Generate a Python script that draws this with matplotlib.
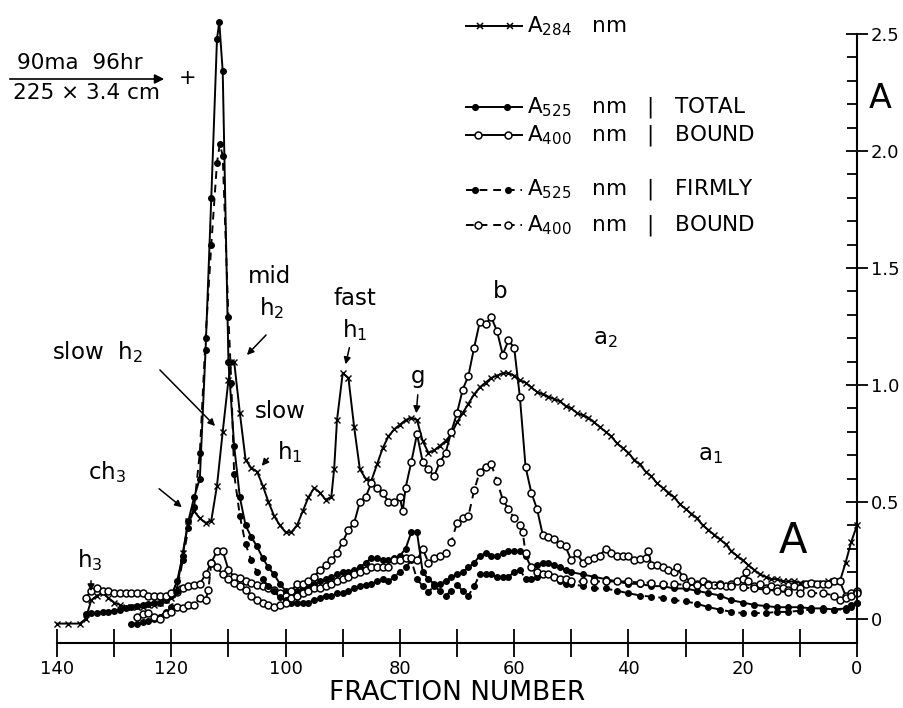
import matplotlib
matplotlib.use("Agg")
import matplotlib.pyplot as plt
from matplotlib.lines import Line2D
import numpy as np

plt.rcParams['font.family'] = ['DejaVu Sans']
plt.rcParams['mathtext.default'] = 'regular'

# --- data (fraction number, absorbance) ---
a284_frac = [140, 138, 136, 135, 134, 133, 132, 131, 130, 129, 128, 127, 126, 125, 124, 123, 122, 121,
             120, 119, 118, 117, 116, 115, 114, 113, 112, 111, 110, 109.5, 109, 108, 107, 106, 105, 104,
             103, 102, 101, 100, 99, 98, 97, 96, 95, 94, 93, 92, 91.5, 91, 90, 89, 88, 87, 86, 85, 84,
             83, 82, 81, 80, 79, 78, 77, 76, 75, 74, 73, 72, 71, 70, 69, 68, 67, 66, 65, 64, 63, 62, 61,
             60, 59, 58, 57, 56, 55, 54, 53, 52, 51, 50, 49, 48, 47, 46, 45, 44, 43, 42, 41, 40, 39, 38,
             37, 36, 35, 34, 33, 32, 31, 30, 29, 28, 27, 26, 25, 24, 23, 22, 21, 20, 19, 18, 17, 16, 15,
             14, 13, 12, 11, 10, 9, 8, 7, 6, 5, 4, 3, 2, 1, 0]
a284_val = [-0.02, -0.02, -0.02, 0.0, 0.08, 0.10, 0.11, 0.09, 0.07, 0.06, 0.05, 0.05, 0.05, 0.05, 0.06, 0.06,
            0.07, 0.08, 0.09, 0.13, 0.28, 0.42, 0.46, 0.43, 0.41, 0.42, 0.57, 0.80, 1.02, 1.10, 1.10, 0.88,
            0.68, 0.645, 0.63, 0.57, 0.50, 0.44, 0.40, 0.37, 0.37, 0.40, 0.46, 0.52, 0.56, 0.54, 0.51, 0.52,
            0.64, 0.85, 1.05, 1.03, 0.82, 0.64, 0.60, 0.59, 0.66, 0.73, 0.78, 0.81, 0.83, 0.85, 0.86, 0.85,
            0.76, 0.71, 0.72, 0.74, 0.76, 0.79, 0.84, 0.88, 0.92, 0.96, 0.99, 1.01, 1.03, 1.04, 1.05, 1.05,
            1.04, 1.02, 1.01, 0.99, 0.97, 0.96, 0.95, 0.94, 0.93, 0.91, 0.90, 0.88, 0.87, 0.86, 0.84, 0.82,
            0.80, 0.78, 0.75, 0.73, 0.71, 0.68, 0.66, 0.63, 0.61, 0.58, 0.56, 0.54, 0.52, 0.49, 0.47, 0.45,
            0.43, 0.40, 0.38, 0.36, 0.34, 0.32, 0.29, 0.27, 0.25, 0.23, 0.21, 0.19, 0.18, 0.17, 0.17, 0.16,
            0.16, 0.16, 0.155, 0.155, 0.15, 0.155, 0.155, 0.16, 0.16, 0.16, 0.24, 0.33, 0.40]

tot525_frac = [135, 134, 133, 132, 131, 130, 129, 128, 127, 126, 125, 124, 123, 122, 121, 120, 119, 118,
               117, 116, 115, 114, 113, 112, 111.6, 111, 110, 109, 108, 107, 106, 105, 104, 103, 102, 101, 100,
               99, 98, 97, 96, 95, 94, 93, 92, 91, 90, 89, 88, 87, 86, 85, 84, 83, 82, 81, 80, 79, 78, 77,
               76, 75, 74, 73, 72, 71, 70, 69, 68, 67, 66, 65, 64, 63, 62, 61, 60, 59, 58, 57, 56, 55, 54,
               53, 52, 51, 50, 48, 46, 44, 42, 40, 38, 36, 34, 32, 30, 28, 26, 24, 22, 20, 18, 16, 14, 12,
               10, 8, 6, 4, 2, 1, 0]
tot525_val = [0.02, 0.025, 0.025, 0.03, 0.03, 0.035, 0.04, 0.045, 0.05, 0.055, 0.06, 0.065, 0.07, 0.07,
              0.08, 0.10, 0.16, 0.27, 0.42, 0.52, 0.60, 1.15, 1.80, 2.48, 2.55, 2.34, 1.10, 0.74, 0.52, 0.40,
              0.35, 0.31, 0.26, 0.22, 0.19, 0.15, 0.12, 0.11, 0.12, 0.13, 0.14, 0.15, 0.16, 0.17, 0.18,
              0.19, 0.20, 0.20, 0.21, 0.22, 0.24, 0.26, 0.26, 0.25, 0.25, 0.26, 0.27, 0.30, 0.37, 0.37,
              0.20, 0.17, 0.15, 0.15, 0.16, 0.18, 0.19, 0.20, 0.22, 0.24, 0.27, 0.28, 0.27, 0.27, 0.28,
              0.29, 0.29, 0.29, 0.27, 0.22, 0.23, 0.24, 0.24, 0.23, 0.22, 0.21, 0.20, 0.19, 0.18, 0.17,
              0.16, 0.15, 0.15, 0.14, 0.14, 0.13, 0.13, 0.12, 0.11, 0.10, 0.08, 0.07, 0.06, 0.055, 0.05,
              0.05, 0.05, 0.045, 0.045, 0.04, 0.045, 0.06, 0.07]

tot400_frac = [135, 134, 133, 132, 131, 130, 129, 128, 127, 126, 125, 124, 123, 122, 121, 120, 119, 118,
               117, 116, 115, 114, 113, 112, 111, 110, 109, 108, 107, 106, 105, 104, 103, 102, 101, 100,
               99, 98, 97, 96, 95, 94, 93, 92, 91, 90, 89, 88, 87, 86, 85, 84, 83, 82, 81, 80, 79.5, 79,
               78, 77, 76, 75, 74, 73, 72, 71, 70, 69, 68, 67, 66, 65, 64, 63, 62, 61, 60, 59, 58, 57, 56,
               55, 54, 53, 52, 51, 50, 49, 48, 47, 46, 45, 44, 43, 42, 41, 40, 39, 38, 37, 36.5, 36, 35,
               34, 33, 32, 31.5, 30.5, 29, 28, 27, 26, 25, 24, 23, 22, 21, 20, 19.5, 19, 18, 17, 16, 15,
               14, 13, 12, 11, 10, 9, 8, 7, 6, 5, 4, 3, 2, 1, 0]
tot400_val = [0.09, 0.12, 0.13, 0.12, 0.12, 0.11, 0.11, 0.11, 0.11, 0.11, 0.11, 0.10, 0.10, 0.10, 0.10,
              0.11, 0.115, 0.13, 0.14, 0.145, 0.15, 0.19, 0.24, 0.29, 0.29, 0.21, 0.18, 0.175, 0.16,
              0.155, 0.145, 0.14, 0.13, 0.125, 0.11, 0.10, 0.12, 0.15, 0.15, 0.16, 0.18, 0.21, 0.23, 0.25,
              0.28, 0.33, 0.38, 0.41, 0.50, 0.52, 0.58, 0.56, 0.54, 0.50, 0.50, 0.52, 0.46, 0.56, 0.67,
              0.79, 0.67, 0.64, 0.61, 0.67, 0.71, 0.80, 0.88, 0.98, 1.04, 1.16, 1.27, 1.26, 1.29, 1.23,
              1.13, 1.19, 1.16, 0.95, 0.65, 0.54, 0.47, 0.36, 0.35, 0.34, 0.32, 0.31, 0.25, 0.28, 0.24,
              0.25, 0.26, 0.27, 0.30, 0.28, 0.27, 0.27, 0.27, 0.25, 0.255, 0.26, 0.29, 0.23, 0.23, 0.22,
              0.21, 0.20, 0.22, 0.18, 0.16, 0.15, 0.16, 0.15, 0.145, 0.15, 0.14, 0.15, 0.16, 0.17, 0.20,
              0.16, 0.14, 0.15, 0.13, 0.14, 0.13, 0.13, 0.125, 0.14, 0.13, 0.15, 0.155, 0.15, 0.15, 0.15,
              0.16, 0.16, 0.10, 0.11, 0.12]

firm525_frac = [127, 126, 125, 124, 123, 122, 121, 120, 119, 118, 117, 116, 115, 114, 113, 112, 111.5,
                111, 110, 109.5, 109, 108, 107, 106, 105, 104, 103, 102, 101, 100, 99, 98, 97, 96, 95, 94,
                93, 92, 91, 90, 89, 88, 87, 86, 85, 84, 83, 82, 81, 80, 79, 78, 77, 76, 75, 74, 73, 72, 71,
                70, 69, 68, 67, 66, 65, 64, 63, 62, 61, 60, 59, 58, 57, 56, 55, 54, 53, 52, 51, 50, 48, 46,
                44, 42, 40, 38, 36, 34, 32, 30, 28, 26, 24, 22, 20, 18, 16, 14, 12, 10, 8, 6, 4, 2, 1, 0]
firm525_val = [-0.02, -0.02, -0.015, -0.01, 0.0, 0.01, 0.03, 0.05, 0.12, 0.25, 0.39, 0.48, 0.71, 1.20,
               1.60, 1.95, 2.03, 1.98, 1.29, 1.01, 0.62, 0.44, 0.32, 0.25, 0.20, 0.17, 0.14, 0.12, 0.095,
               0.08, 0.07, 0.07, 0.07, 0.07, 0.08, 0.09, 0.10, 0.10, 0.11, 0.11, 0.12, 0.13, 0.14, 0.145,
               0.15, 0.16, 0.17, 0.16, 0.18, 0.20, 0.22, 0.25, 0.17, 0.14, 0.115, 0.14, 0.12, 0.10, 0.12,
               0.145, 0.12, 0.10, 0.14, 0.19, 0.19, 0.19, 0.18, 0.18, 0.18, 0.20, 0.21, 0.17, 0.17, 0.18,
               0.19, 0.19, 0.18, 0.16, 0.15, 0.15, 0.14, 0.13, 0.13, 0.12, 0.11, 0.10, 0.095, 0.09, 0.08,
               0.075, 0.065, 0.05, 0.04, 0.03, 0.025, 0.025, 0.025, 0.03, 0.03, 0.035, 0.04, 0.04, 0.04,
               0.04, 0.05, 0.07]

firm400_frac = [126, 125, 124, 123, 122, 121, 120, 119, 118, 117, 116, 115, 114, 113.5, 113, 112, 111,
                110, 109, 108, 107, 106, 105, 104, 103, 102, 101, 100, 99, 98, 97, 96, 95, 94, 93, 92, 91,
                90, 89, 88, 87, 86, 85, 84, 83, 82, 81, 80, 79, 78, 77, 76, 75, 74, 73, 72, 71, 70, 69, 68,
                67, 66, 65, 64, 63, 62, 61, 60, 59, 58.5, 58, 57, 56, 55, 54, 53, 52, 51, 50, 48, 46, 44,
                42, 40, 38, 36, 34, 32, 30, 28, 26, 24, 22, 20, 18, 16, 14, 12, 10, 8, 6, 4, 3, 2, 1, 0]
firm400_val = [0.01, 0.02, 0.025, 0.01, 0.0, 0.02, 0.03, 0.05, 0.047, 0.06, 0.06, 0.09, 0.08, 0.125, 0.24,
               0.22, 0.19, 0.17, 0.155, 0.14, 0.125, 0.10, 0.08, 0.07, 0.06, 0.05, 0.06, 0.07, 0.09, 0.10,
               0.11, 0.12, 0.13, 0.13, 0.14, 0.15, 0.16, 0.17, 0.18, 0.19, 0.20, 0.21, 0.22, 0.22, 0.22,
               0.22, 0.25, 0.25, 0.26, 0.26, 0.25, 0.30, 0.24, 0.26, 0.27, 0.28, 0.33, 0.41, 0.43, 0.44,
               0.55, 0.63, 0.65, 0.66, 0.59, 0.51, 0.47, 0.43, 0.40, 0.37, 0.28, 0.22, 0.20, 0.19, 0.19,
               0.18, 0.17, 0.17, 0.16, 0.16, 0.16, 0.16, 0.16, 0.16, 0.155, 0.155, 0.15, 0.15, 0.145,
               0.145, 0.145, 0.145, 0.14, 0.135, 0.13, 0.125, 0.12, 0.115, 0.11, 0.11, 0.11, 0.10, 0.08,
               0.09, 0.10, 0.11]

W, H = 904, 708


def P(x, y):
    # figure pixel (from top-left) -> figure fraction
    return (x / W, 1 - y / H)


fig = plt.figure(figsize=(9.04, 7.08), dpi=100)
ax = fig.add_axes([57 / W, 65 / H, 800 / W, 609 / H])

lw = 1.4
ax.plot(a284_frac, a284_val, '-', color='k', lw=lw, marker='x', ms=4, mew=1.0, clip_on=False)
ax.plot(tot525_frac, tot525_val, '-', color='k', lw=lw, marker='o', ms=4, mfc='k', clip_on=False)
ax.plot(tot400_frac, tot400_val, '-', color='k', lw=lw, marker='o', ms=5, mfc='white', mew=1.1, clip_on=False)
ax.plot(firm525_frac, firm525_val, '--', color='k', lw=lw, dashes=(4, 3), marker='o', ms=4, mfc='k', clip_on=False)
ax.plot(firm400_frac, firm400_val, '--', color='k', lw=lw, dashes=(4, 3), marker='o', ms=5, mfc='white', mew=1.1, clip_on=False)

ax.set_xlim(140, 0)
ax.set_ylim(-0.103, 2.5)

for s in ['top', 'left']:
    ax.spines[s].set_visible(False)
for s in ['bottom', 'right']:
    ax.spines[s].set_linewidth(1.5)

ax.yaxis.tick_right()
ax.set_yticks([0, 0.5, 1.0, 1.5, 2.0, 2.5])
ax.set_yticklabels(['0', '0.5', '1.0', '1.5', '2.0', '2.5'])
ax.set_yticks(np.arange(0, 2.51, 0.1), minor=True)
ax.set_xticks(np.arange(0, 141, 20))
ax.set_xticks(np.arange(10, 140, 20), minor=True)
ax.tick_params(axis='y', which='major', direction='inout', length=16, width=1.3, labelsize=13, pad=2)
ax.tick_params(axis='y', which='minor', direction='in', length=7, width=1.3)
ax.tick_params(axis='x', which='both', direction='inout', length=20, width=1.3, labelsize=13, pad=2)
ax.set_xlabel('FRACTION NUMBER', fontsize=19, labelpad=2)

# axis label and panel label
fig.text(*P(880, 98), 'A', fontsize=24, ha='center', va='center')
fig.text(*P(793, 541), 'A', fontsize=30, ha='center', va='center')

# run conditions
fig.text(*P(80, 63), '90ma  96hr', fontsize=15.5, ha='center', va='center')
fig.text(*P(87, 93), '225 × 3.4 cm', fontsize=15.5, ha='center', va='center')
ax.annotate('', xy=P(167, 79), xytext=P(7, 79), xycoords='figure fraction', textcoords='figure fraction',
            arrowprops=dict(arrowstyle='-|>', lw=1.2, color='k', mutation_scale=14))
fig.text(*P(188, 78), '+', fontsize=15, ha='center', va='center')

# hand-drawn style legend
leg_rows = [
    (26, '-', 'x', 'k', r'A$_{284}$   nm', 480, 510),
    (107, '-', 'o', 'k', r'A$_{525}$   nm   |   TOTAL', 475, 507),
    (135, '-', 'o', 'white', r'A$_{400}$   nm   |   BOUND', 478, 508),
    (190, '--', 'o', 'k', r'A$_{525}$   nm   |   FIRMLY', 475, 508),
    (225, '--', 'o', 'white', r'A$_{400}$   nm   |   BOUND', 478, 508),
]
for y, ls, mk, fc, label, m1, m2 in leg_rows:
    x0, y0 = P(466, y)
    x1, _ = P(522, y)
    ln = Line2D([x0, x1], [y0, y0], transform=fig.transFigure, color='k', lw=lw, ls=ls)
    if ls == '--':
        ln.set_dashes((4, 3))
    fig.add_artist(ln)
    mx = [P(m1, y)[0], P(m2, y)[0]]
    ms = 4 if mk == 'x' or fc == 'k' else 5
    fig.add_artist(Line2D(mx, [y0, y0], transform=fig.transFigure, ls='none', marker=mk, ms=ms,
                          mfc=fc, mec='k', mew=1.1))
    fig.text(x1 + 5 / W, y0, label, fontsize=15.5, ha='left', va='center')

# peak labels
arrow = dict(arrowstyle='-|>', lw=1.1, color='k', mutation_scale=10)
fsz = 16.5


def note(x, y, s, ha='center'):
    fig.text(*P(x, y), s, fontsize=fsz, ha=ha, va='center')


def arr(x0, y0, x1, y1):
    ax.annotate('', xy=P(x1, y1), xytext=P(x0, y0), xycoords='figure fraction',
                textcoords='figure fraction', arrowprops=arrow)


note(97, 352, r'slow  h$_2$')
arr(158, 368, 217, 428)
note(270, 277, 'mid')
note(272, 308, r'h$_2$')
arr(268, 333, 245, 357)
note(280, 412, 'slow')
note(290, 452, r'h$_1$')
arr(270, 456, 260, 468)
note(355, 298, 'fast')
note(355, 330, r'h$_1$')
arr(350, 345, 345, 367)
note(418, 376, 'g')
arr(418, 392, 416, 416)
note(500, 292, 'b')
note(605, 338, r'a$_2$')
note(710, 455, r'a$_1$')
note(107, 472, r'ch$_3$')
arr(157, 487, 184, 509)
note(90, 560, r'h$_3$')
arr(91, 578, 91, 594)

fig.savefig('out.png', dpi=100)
